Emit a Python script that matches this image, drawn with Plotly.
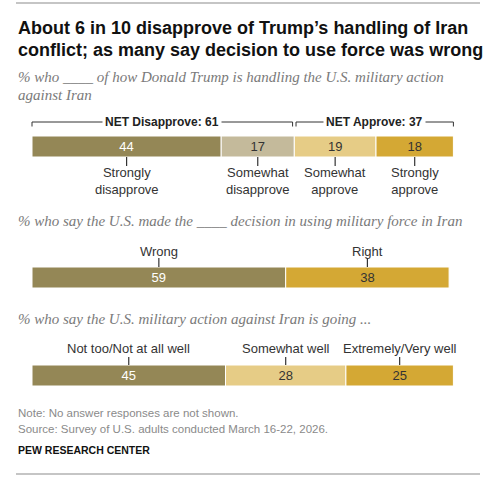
import plotly.graph_objects as go

# data
approval_labels = ["Strongly<br>disapprove", "Somewhat<br>disapprove", "Somewhat<br>approve", "Strongly<br>approve"]
approval_values = [44, 17, 19, 18]
net_labels = ["NET Disapprove", "NET Approve"]
net_values = [61, 37]
decision_labels = ["Wrong", "Right"]
decision_values = [59, 38]
going_labels = ["Not too/Not at all well", "Somewhat well", "Extremely/Very well"]
going_values = [45, 28, 25]

OLIVE = "#948756"
BEIGE = "#C4BA9B"
LIGHT = "#E6CC86"
GOLD = "#D4A834"

W, H = 500, 478
X0, PX = 32, 4.3  # left edge of bars and pixels per percentage point

fig = go.Figure()


def add_row(values, colors, yc, height=21):
    base = 0
    centers = []
    for v, c in zip(values, colors):
        fig.add_trace(go.Bar(
            x=[v], base=[base], y=[yc], width=[height], orientation="h",
            marker=dict(color=c, line=dict(color="white", width=1)),
            text=[str(v)], textposition="inside", insidetextanchor="middle",
            textfont=dict(family="Liberation Sans", size=13,
                          color="white" if c == OLIVE else "#333333"),
            hoverinfo="skip", showlegend=False,
        ))
        centers.append(base + v / 2)
        base += v
    return centers


def tick(x, y0, y1):
    fig.add_shape(type="line", x0=x, x1=x, y0=y0, y1=y1, xref="x", yref="y",
                  line=dict(color="#333333", width=1.2))


def label(text, x, y, size=13, color="#333333", bold=False, xref="x", anchor="center",
          font="Liberation Sans", italic=False):
    if bold:
        text = "<b>" + text + "</b>"
    if italic:
        text = "<i>" + text + "</i>"
    if xref == "paper":
        x = x / W
    fig.add_annotation(text=text, x=x, y=y, xref=xref, yref="y", showarrow=False,
                       xanchor=anchor, yanchor="middle", align=anchor,
                       font=dict(family=font, size=size, color=color))


# rules, top and bottom, drawn as plain line traces
rule_x = [(16 - X0) / PX, (480 - X0) / PX]
for yy in (3, 474):
    fig.add_trace(go.Scatter(x=rule_x, y=[yy, yy], mode="lines", cliponaxis=False,
                             line=dict(color="#8c8c8c", width=1.2),
                             hoverinfo="skip", showlegend=False))

# row 1: approval
c1 = add_row(approval_values, [OLIVE, BEIGE, LIGHT, GOLD], 146.5)
for lab, cx in zip(approval_labels, c1):
    tick(cx, 157, 166)
    label(lab, cx, 180.5)

# brackets for NET
spans = [(0, net_values[0] - 0.4), (net_values[0] + 0.4, sum(approval_values))]
for (a, b), lab, v in zip(spans, net_labels, net_values):
    fig.add_shape(type="line", x0=a, x1=b, y0=122, y1=122, line=dict(color="#333333", width=1))
    fig.add_shape(type="line", x0=a, x1=a, y0=122, y1=126.5, line=dict(color="#333333", width=1))
    fig.add_shape(type="line", x0=b, x1=b, y0=122, y1=126.5, line=dict(color="#333333", width=1))
    fig.add_annotation(text="<b>%s: %d</b>" % (lab, v), x=(a + b) / 2, y=122, xref="x", yref="y",
                       showarrow=False, bgcolor="white", borderpad=2,
                       font=dict(family="Liberation Sans", size=12, color="#222222"))

# row 2: decision
c2 = add_row(decision_values, [OLIVE, GOLD], 277.5)
for lab, cx in zip(decision_labels, c2):
    tick(cx, 258, 267)
    label(lab, cx, 251)

# row 3: going
c3 = add_row(going_values, [OLIVE, LIGHT, GOLD], 375.5)
for lab, cx in zip(going_labels, c3):
    tick(cx, 357, 365)
    label(lab, cx, 348)

# title and subtitles
L = 16
SUB = dict(size=15, color="#7a7a7a", xref="paper", anchor="left", font="Liberation Serif", italic=True)
label("About 6 in 10 disapprove of Trump’s handling of Iran", L, 28, size=18, color="#111111",
      bold=True, xref="paper", anchor="left")
label("conflict; as many say decision to use force was wrong", L, 50, size=18, color="#111111",
      bold=True, xref="paper", anchor="left")
label("% who ____ of how Donald Trump is handling the U.S. military action", L, 77, **SUB)
label("against Iran", L, 95, **SUB)
label("% who say the U.S. made the ____ decision in using military force in Iran", L, 221, **SUB)
label("% who say the U.S. military action against Iran is going ...", L, 319, **SUB)

# footer
label("Note: No answer responses are not shown.", L, 413, size=11.5, color="#8a8a8a", xref="paper", anchor="left")
label("Source: Survey of U.S. adults conducted March 16-22, 2026.", L, 429, size=11.5, color="#8a8a8a",
      xref="paper", anchor="left")
label("PEW RESEARCH CENTER", L, 450, size=10.5, color="#111111", bold=True, xref="paper", anchor="left")

fig.update_layout(
    width=W, height=H, margin=dict(l=0, r=0, t=0, b=0),
    paper_bgcolor="white", plot_bgcolor="white", barmode="overlay",
    xaxis=dict(range=[-X0 / PX, (W - X0) / PX], visible=False, fixedrange=True),
    yaxis=dict(range=[H, 0], visible=False, fixedrange=True),
)

# drop the browser's default page margin so the figure sits at the window's corner
fig.write_html("out.html", config={"displayModeBar": False},
               post_script="document.body.style.margin='0';")
